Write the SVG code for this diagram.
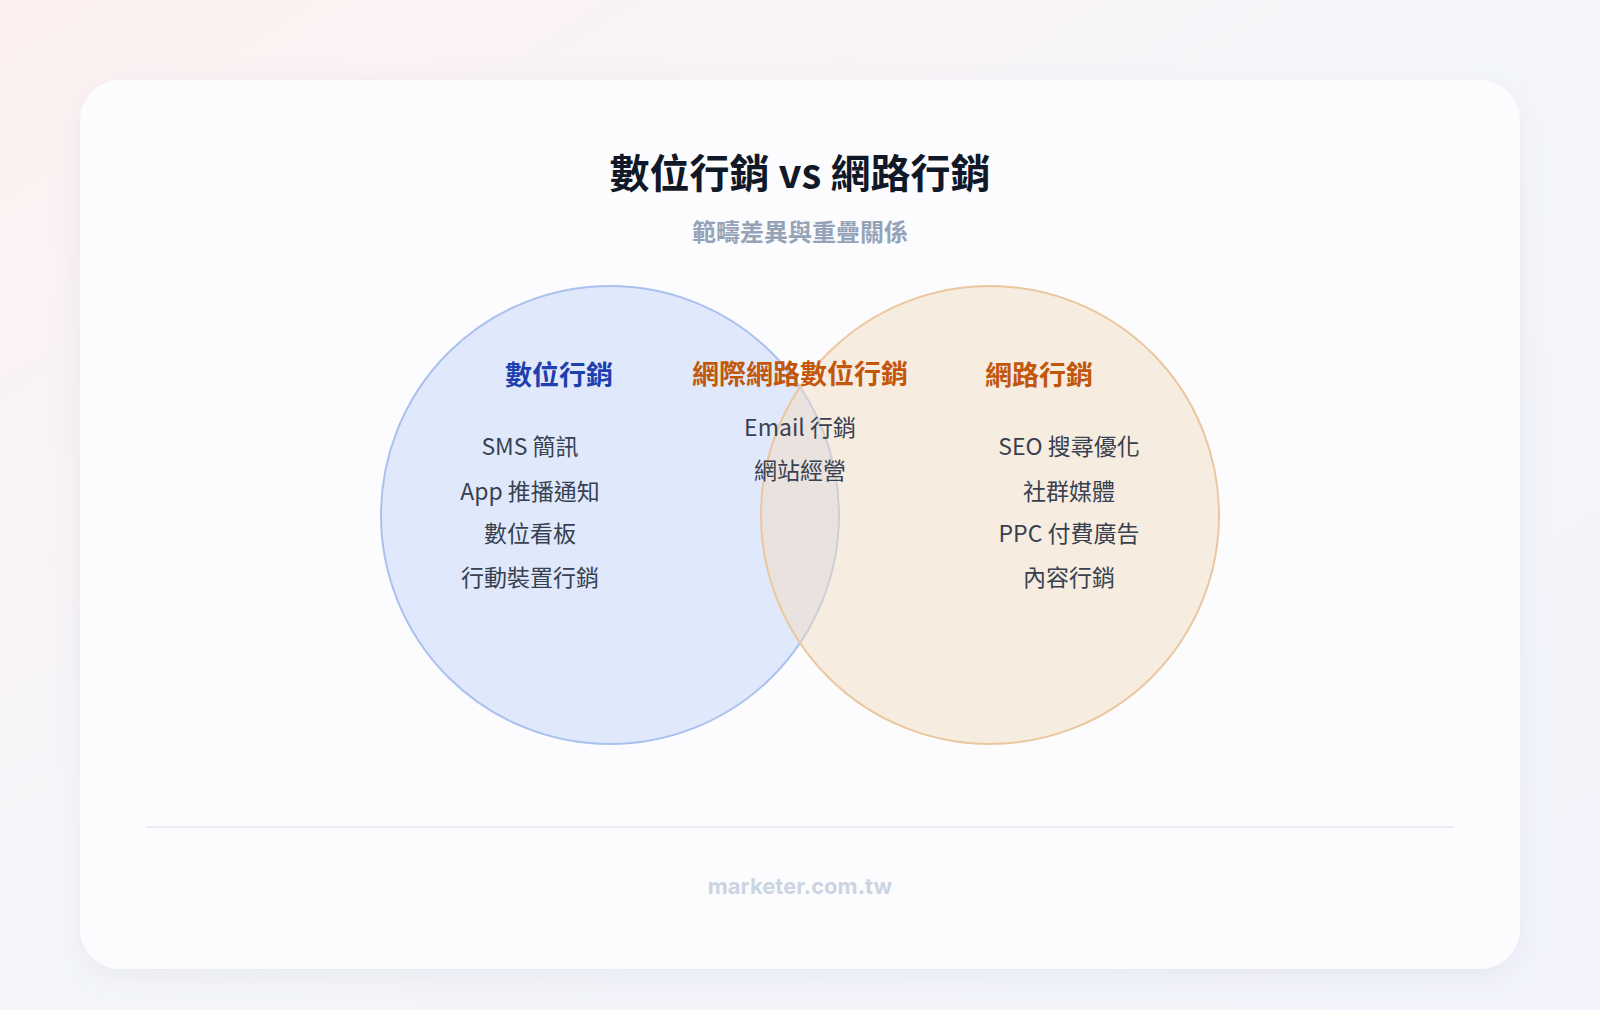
<svg xmlns="http://www.w3.org/2000/svg" width="1600" height="1010" viewBox="0 0 1600 1010">
<defs>
<linearGradient id="bg" x1="0" y1="0" x2="1" y2="1"><stop offset="0" stop-color="#fdf1f1"/><stop offset="0.5" stop-color="#f5f6fa"/><stop offset="1" stop-color="#f3f3fb"/></linearGradient>
<filter id="sh" x="-10%" y="-10%" width="120%" height="120%"><feDropShadow dx="0" dy="8" stdDeviation="14" flood-color="#8090b0" flood-opacity="0.12"/></filter>
<style>
text{font-family:"Noto Sans CJK TC","Noto Sans",sans-serif;text-anchor:middle}
.item{font-size:23px;fill:#374151}
.h{font-size:27px;font-weight:bold}
</style>
</defs>
<rect width="1600" height="1010" fill="url(#bg)"/>
<rect x="80" y="80" width="1440" height="889" rx="40" fill="#fcfcfe" filter="url(#sh)"/>
<text x="800" y="188" font-size="40" font-weight="bold" fill="#111827">數位行銷 vs 網路行銷</text>
<text x="800" y="241" font-size="24" font-weight="bold" fill="#94a3b8">範疇差異與重疊關係</text>
<g id="left-circle"><circle cx="610" cy="515" r="229" fill="#c9d9f7" fill-opacity="0.55" stroke="#aac0ee" stroke-width="2"/></g>
<g id="right-circle"><circle cx="990" cy="515" r="229" fill="#f2dcc2" fill-opacity="0.5" stroke="#eac79e" stroke-width="2"/></g>
<g id="left-labels">
<text class="h" x="559" y="385" fill="#1e40af">數位行銷</text>
<text class="item" x="530" y="455">SMS 簡訊</text>
<text class="item" x="530" y="500">App 推播通知</text>
<text class="item" x="530" y="542">數位看板</text>
<text class="item" x="530" y="586">行動裝置行銷</text>
</g>
<g id="overlap-labels">
<text class="h" x="800" y="384" fill="#c2570c">網際網路數位行銷</text>
<text class="item" x="800" y="436">Email 行銷</text>
<text class="item" x="800" y="479">網站經營</text>
</g>
<g id="right-labels">
<text class="h" x="1039" y="385" fill="#c2570c">網路行銷</text>
<text class="item" x="1069" y="455">SEO 搜尋優化</text>
<text class="item" x="1069" y="500">社群媒體</text>
<text class="item" x="1069" y="542">PPC 付費廣告</text>
<text class="item" x="1069" y="586">內容行銷</text>
</g>
<g id="connectors"></g>
<line x1="146" y1="827" x2="1454" y2="827" stroke="#e5e7eb" stroke-width="1.5"/>
<text x="800" y="894" font-size="22" font-weight="bold" fill="#cbd5e1" style="font-family:'Inter','Noto Sans',sans-serif">marketer.com.tw</text>
</svg>
